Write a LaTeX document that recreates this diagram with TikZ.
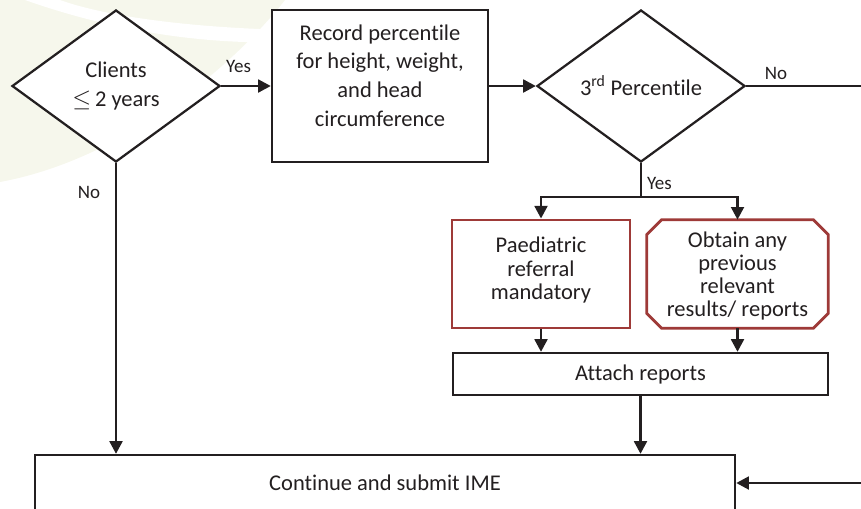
\documentclass[tikz,border=0pt]{standalone}
\usepackage{fontspec}
\setmainfont[Ligatures = NoCommon]{Carlito}
\usetikzlibrary{shapes.geometric,arrows.meta}
\definecolor{ink}{HTML}{231F20}
\definecolor{refred}{HTML}{9E3A38}
\definecolor{leaf}{HTML}{F6F7EC}
\tikzset{
    bigtext/.style = {font = \fontsize{16}{20.5}\selectfont, text = ink, align = center},
    tighttext/.style = {font = \fontsize{16}{16.5}\selectfont, text = ink, align = center},
    decision/.style = {diamond, draw = ink, line width = 1.6pt, fill = white, minimum width = 5.2cm, minimum height = 3.8cm, inner sep = 0pt, bigtext},
    process/.style = {rectangle, draw = ink, line width = 1.6pt, fill = white, inner sep = 0pt, bigtext},
    redbox/.style = {rectangle, draw = refred, line width = 2pt, fill = white, inner sep = 0pt, minimum height = 2.7cm, tighttext},
    redoct/.style = {rectangle, inner sep = 0pt, minimum height = 2.7cm, tighttext},
    octline/.style = {draw = refred, line width = 2pt, line join = miter},
    flow/.style = {draw = ink, line width = 2pt},
    arrow/.style = {flow, -{Triangle[width = 9pt, length = 9pt]}},
    tag/.style = {font = \fontsize{13.5}{15}\selectfont, text = ink}
}
\begin{document}
\begin{tikzpicture}[x = 0.025cm, y = -0.025cm]
        \useasboundingbox (0,0) rectangle (861,508);
        \clip (0,0) rectangle (861,508);
        \fill[leaf] (0,0) -- (285,0) .. controls (230,70) and (120,160) .. (0,182) -- cycle;
        \fill[white] (25,0) .. controls (110,30) and (200,45) .. (290,42) -- (290,30) .. controls (200,28) and (110,18) .. (60,0) -- cycle;
        \node[decision] (clients) at (116,86) {Clients\\$\leq$\,2 years};
        \node[process, minimum width = 5.4cm, minimum height = 3.8cm, text depth = 15pt] (record) at (380,86) {Record percentile\\for height, weight,\\and head\\circumference};
        \node[decision] (pct) at (641,86) {3\textsuperscript{rd} Percentile};
        \node[redbox, minimum width = 4.45cm, text depth = 8pt] (paed) at (541,274) {Paediatric\\referral\\mandatory};
        \node[redoct, minimum width = 4.525cm, text depth = 0pt] (obtain) at (737.5,274) {Obtain any\\previous\\relevant\\results/ reports};
        \node[process, minimum width = 9.375cm, minimum height = 1.05cm] (attach) at (640.5,374) {Attach reports};
        \node[process, minimum width = 17.5cm, minimum height = 1.4cm] (cont) at (385,483) {Continue and submit IME};
        \draw[octline] ([xshift = 0.375cm]obtain.north west) -- ([xshift = -0.375cm]obtain.north east)
            -- ([yshift = -0.375cm]obtain.north east) -- ([yshift = 0.375cm]obtain.south east)
            -- ([xshift = -0.375cm]obtain.south east) -- ([xshift = 0.375cm]obtain.south west)
            -- ([yshift = 0.375cm]obtain.south west) -- ([yshift = -0.375cm]obtain.north west) -- cycle;
        \coordinate (split) at (641,197);
        \coordinate (noend) at (861,86);
        \coordinate (backin) at (861,483);
        \begin{scope}[style = arrow]
            \draw (clients.east) -- (record.west) node[tag, above = 5pt, pos = 0.35] {Yes};
            \draw (record.east) -- (pct.west);
            \draw (clients.south) -- (clients.south |- cont.north) node[tag, left = 7pt, pos = 0.1] {No};
            \draw (split) -| (paed.north);
            \draw (split) -| (obtain.north);
            \draw (paed.south) -- (paed.south |- attach.north);
            \draw (obtain.south) -- (obtain.south |- attach.north);
            \draw (attach.south) -- (attach.south |- cont.north);
            \draw (backin) -- (cont.east);
        \end{scope}
        \draw[flow] (pct.east) -- (noend) node[tag, above, pos = 0.26] {No};
        \draw[flow] (pct.south) -- (split) node[tag, right, pos = 0.6] {Yes};
    \end{tikzpicture}
\end{document}
